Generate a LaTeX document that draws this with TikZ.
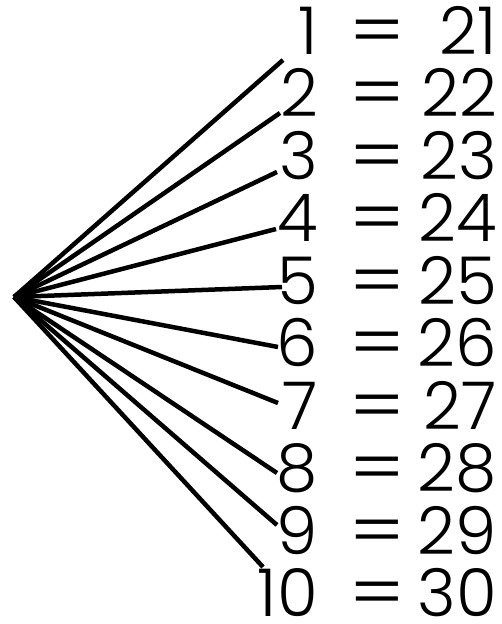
\documentclass[tikz,border=0pt]{standalone}
\usepackage{fontspec}
\setmainfont{Poppins}[UprightFont=* Light,Numbers=Proportional]
\begin{document}
\begin{tikzpicture}[x=1pt,y=-1pt,
  num/.style={inner sep=0pt,anchor=base east,font=\fontsize{66}{66}\selectfont},
  eqs/.style={inner sep=0pt,anchor=center,font=\fontsize{66}{66}\selectfont},
  ray/.style={line width=4.5pt}]
\useasboundingbox (0,0) rectangle (502,624);
\coordinate (apex) at (14,297);
\foreach \i/\r/\ex/\ey in {1/21/283/60,2/22/280/113,3/23/277/172,4/24/276/229,5/25/282/287,6/26/278/347,7/27/278/403,8/28/277/473,9/29/277/525,10/30/263/567}{
  \pgfmathsetmacro{\by}{54+62.5*(\i-1)}
  \node[num] (l\i) at (318,\by) {\i};
  \node[eqs] (e\i) at (377,\by-16) {\scalebox{1.25}[1.1]{=}};
  \node[num] (r\i) at (497,\by) {\r};
  \coordinate (end\i) at (\ex,\ey);
  \draw[ray] (apex) -- (end\i);
}
\end{tikzpicture}
\end{document}
